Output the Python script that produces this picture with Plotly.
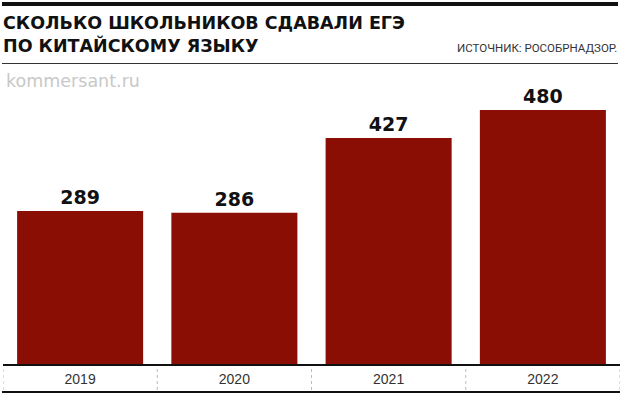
import plotly.graph_objects as go

years = ["2019", "2020", "2021", "2022"]
values = [289, 286, 427, 480]
title_lines = ["СКОЛЬКО ШКОЛЬНИКОВ СДАВАЛИ ЕГЭ", "ПО КИТАЙСКОМУ ЯЗЫКУ"]
source = "ИСТОЧНИК: РОСОБРНАДЗОР."
watermark = "kommersant.ru"

W, H = 622, 398
L, R, T, B = 3, 2, 64, 34
PH = H - T - B
PW = W - L - R

def py(p):
    return (H - B - p) / PH

def px(p):
    return (p - L) / PW

fig = go.Figure(go.Bar(
    x=years, y=values,
    marker=dict(color="#8a0e03", line=dict(width=0)),
    text=[str(v) for v in values],
    textposition="outside",
    textfont=dict(family="DejaVu Sans", size=19, color="#111", weight="bold"),
    cliponaxis=False,
    hoverinfo="skip",
))

shapes = []
shapes.append(dict(type="line", xref="paper", yref="paper", x0=px(2), x1=px(618), y0=py(4), y1=py(4),
                   line=dict(color="#111", width=4)))
shapes.append(dict(type="line", xref="paper", yref="paper", x0=px(2), x1=px(618), y0=py(63.5), y1=py(63.5),
                   line=dict(color="#333", width=1)))
shapes.append(dict(type="line", xref="paper", yref="paper", x0=px(2), x1=px(620), y0=py(392), y1=py(392),
                   line=dict(color="#111", width=2)))
for i in range(len(years) + 1):
    shapes.append(dict(type="line", xref="x", yref="paper", x0=i - 0.5, x1=i - 0.5, y0=py(369), y1=py(390),
                       line=dict(color="#bbb", width=1, dash="3px,3px")))

annotations = [
    dict(text="<b>" + title_lines[0] + "</b>", xref="paper", yref="paper", x=px(1), y=py(23),
         xanchor="left", yanchor="middle", showarrow=False,
         font=dict(family="DejaVu Sans", size=17.5, color="#111")),
    dict(text="<b>" + title_lines[1] + "</b>", xref="paper", yref="paper", x=px(1), y=py(45),
         xanchor="left", yanchor="middle", showarrow=False,
         font=dict(family="DejaVu Sans", size=17.5, color="#111")),
    dict(text=source, xref="paper", yref="paper", x=px(619), y=py(47.5),
         xanchor="right", yanchor="middle", showarrow=False,
         font=dict(family="Roboto", size=11.5, color="#333")),
    dict(text=watermark, xref="paper", yref="paper", x=px(4), y=py(81),
         xanchor="left", yanchor="middle", showarrow=False,
         font=dict(family="DejaVu Sans", size=17.5, color="#c8c8c8")),
]

fig.update_layout(
    width=W, height=H,
    margin=dict(l=L, r=R, t=T, b=B, pad=0),
    paper_bgcolor="white", plot_bgcolor="white",
    bargap=0.183,
    showlegend=False,
    shapes=shapes,
    annotations=annotations,
    xaxis=dict(range=[-0.5, 3.5], showline=True, linecolor="#111", linewidth=2,
               ticks="", showgrid=False, zeroline=False,
               tickfont=dict(family="Liberation Sans", size=14, color="#333"), ticklabelstandoff=1),
    yaxis=dict(range=[0, 567], visible=False, showgrid=False, zeroline=False),
)

fig.write_html("out.html", config={"displayModeBar": False})
